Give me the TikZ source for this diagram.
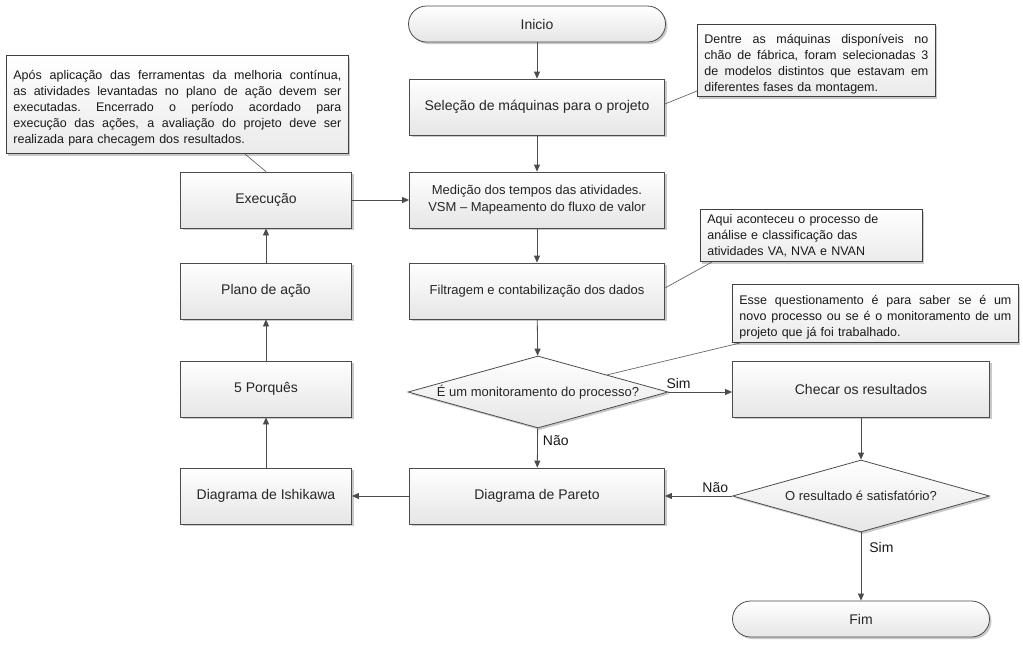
\documentclass[tikz,border=0pt]{standalone}
\usepackage{fontspec}
\setmainfont{Liberation Sans}
\usetikzlibrary{shapes.geometric,shadows,arrows.meta,calc}
\newcommand{\jline}[1]{\par\noindent\hbox to \hsize{\spaceskip=.28em plus 1fil\xspaceskip=.28em plus 1fil\relax #1}\par}
\begin{document}
\begin{tikzpicture}[x=1pt,y=-1pt,
  shad/.style={drop shadow={shadow xshift=2pt,shadow yshift=-2pt,opacity=0.3,fill=black!70}},
  base/.style={draw=black!70, line width=0.8pt, top color=white, bottom color=black!10, shad, text=black!85, inner sep=2pt},
  box/.style={base, rectangle, minimum width=255pt, minimum height=56pt, font=\fontsize{14}{17}\selectfont, align=center},
  sbox/.style={box, minimum width=171pt},
  term/.style={base, rectangle, rounded corners=18pt, minimum width=257pt, minimum height=36pt, font=\fontsize{14}{17}\selectfont},
  dec/.style={base, diamond, aspect=3.6, inner sep=0pt, minimum width=260pt, minimum height=72pt, font=\fontsize{13}{15}\selectfont},
  note/.style={draw=black!75, line width=0.8pt, top color=white, bottom color=black!8, shad, text=black!90, rectangle, align=left, inner xsep=6pt, inner ysep=3pt, font=\fontsize{12.5}{16}\selectfont},
  arr/.style={draw=black!70, line width=0.8pt, -{Triangle[length=7pt,width=6pt]}},
  ptr/.style={draw=black!60, line width=0.7pt},
  lbl/.style={text=black!90, font=\fontsize{14}{16}\selectfont, inner sep=0pt}
]
\useasboundingbox (0,0) rectangle (1023,651);

% main column
\node[term] (ini) at (537,24) {Inicio};
\node[box] (sel) at (537,107) {Seleção de máquinas para o projeto};
\node[box, font=\fontsize{13}{17}\selectfont] (med) at (537,200) {Medição dos tempos das atividades.\\VSM -- Mapeamento do fluxo de valor};
\node[box, font=\fontsize{13}{17}\selectfont] (fil) at (537,291) {Filtragem e contabilização dos dados};
\node[dec] (d1) at (538,392) {É um monitoramento do processo?};
\node[box] (par) at (537,496) {Diagrama de Pareto};

% left column
\node[sbox] (ish) at (266,496) {Diagrama de Ishikawa};
\node[sbox] (por) at (266,389) {5 Porquês};
\node[sbox] (pla) at (266,291) {Plano de ação};
\node[sbox] (exe) at (266,200) {Execução};

% right column
\node[box, minimum width=257pt] (che) at (861,389) {Checar os resultados};
\node[dec, minimum width=257pt] (d2) at (861,496) {O resultado é satisfatório?};
\node[term] (fim) at (861,619) {Fim};

% connectors
\draw[arr] (ini) -- (sel);
\draw[arr] (sel) -- (med);
\draw[arr] (med) -- (fil);
\draw[arr] (fil) -- (d1);
\draw[arr] (d1) -- node[lbl, right, pos=0.3, xshift=5pt] {Não} (par);
\draw[arr] (d1.east) -- node[lbl, above, pos=0.16, yshift=3pt] {Sim} (d1.east -| che.west);
\draw[arr] (che) -- (d2);
\draw[arr] (d2.west) -- node[lbl, above, pos=0.25, yshift=3pt] {Não} (par.east);
\draw[arr] (d2) -- node[lbl, right, pos=0.22, xshift=8pt] {Sim} (fim);
\draw[arr] (par) -- (ish);
\draw[arr] (ish) -- (por);
\draw[arr] (por) -- (pla);
\draw[arr] (pla) -- (exe);
\draw[arr] (exe) -- (med);

% callouts
\coordinate (c1sw) at (6,154);
\coordinate (c2sw) at (697,97);
\coordinate (c3sw) at (700,262);
\coordinate (c4sw) at (732,343);
\draw[ptr] (exe.north) -- ($(c1sw)+(239,0)$);
\draw[ptr] ($(sel.east)+(0,-3)$) -- ($(c2sw)+(0,-6)$);
\draw[ptr] ($(fil.east)+(0,-3)$) -- ($(c3sw)+(12,0)$);
\draw[ptr] ($(d1.north)!0.53!(d1.east)$) -- ($(c4sw)+(8,0)$);

\node[note, anchor=south west, minimum width=342pt, minimum height=98pt, text width=328pt] (c1) at (c1sw)
 {\jline{Após aplicação das ferramentas da melhoria contínua,}
  \jline{as atividades levantadas no plano de ação devem ser}
  \jline{executadas. Encerrado o período acordado para}
  \jline{execução das ações, a avaliação do projeto deve ser}
  \noindent realizada para checagem dos resultados.};
\node[note, anchor=south west, minimum width=238pt, minimum height=70pt, text width=224pt] (c2) at (c2sw)
 {\jline{Dentre as máquinas disponíveis no}
  \jline{chão de fábrica, foram selecionadas 3}
  \jline{de modelos distintos que estavam em}
  \noindent diferentes fases da montagem.};
\node[note, anchor=south west, minimum width=222pt, minimum height=52pt, text width=208pt] (c3) at (c3sw)
 {Aqui aconteceu o processo de\\
  análise e classificação das\\
  atividades VA, NVA e NVAN};
\node[note, anchor=south west, minimum width=286pt, minimum height=58pt, text width=272pt] (c4) at (c4sw)
 {\jline{Esse questionamento é para saber se é um}
  \jline{novo processo ou se é o monitoramento de um}
  \noindent projeto que já foi trabalhado.};
\end{tikzpicture}
\end{document}
